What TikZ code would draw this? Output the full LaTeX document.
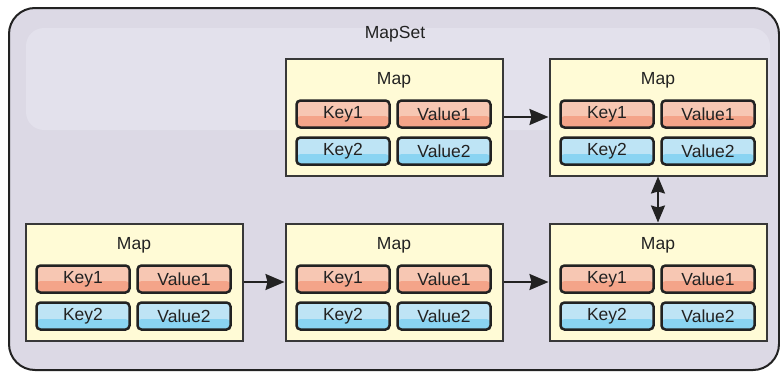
\documentclass[tikz,border=0pt]{standalone}
\usepackage{fontspec}
\setmainfont{Liberation Sans}
\usetikzlibrary{positioning,arrows.meta}

\definecolor{setfill}{HTML}{DCD9E5}
\definecolor{bandfill}{HTML}{E3E1EC}
\definecolor{mapfill}{HTML}{FFFBD6}
\definecolor{keytop}{HTML}{F7C7B3}
\definecolor{keybot}{HTML}{F4A489}
\definecolor{valtop}{HTML}{BEE4F5}
\definecolor{valbot}{HTML}{8AD4F2}
\definecolor{ink}{HTML}{222222}

\tikzset{
  mapbox/.style={draw=ink!90, line width=2pt, fill=mapfill, minimum width=217pt, minimum height=117pt},
  maptitle/.style={text=ink, font=\fontsize{17.5}{20}\selectfont},
  cell/.style={draw=ink, line width=2.5pt, rounded corners=4pt, minimum width=93pt, minimum height=27pt,
    inner sep=0pt, text=ink, font=\fontsize{17.5}{20}\selectfont},
  redcell/.style={cell, fill=keytop, path picture={\fill[keybot] ([yshift=-2pt]path picture bounding box.west) rectangle (path picture bounding box.south east);}},
  bluecell/.style={cell, fill=valtop, path picture={\fill[valbot] ([yshift=-3pt]path picture bounding box.west) rectangle (path picture bounding box.south east);}},
  link/.style={draw=ink, line width=2pt, -{Stealth[length=19pt,width=16pt,inset=2pt]}},
  twolink/.style={draw=ink, line width=2pt, {Stealth[length=17pt,width=14pt,inset=2pt]}-{Stealth[length=17pt,width=14pt,inset=2pt]}}
}

\begin{document}
\begin{tikzpicture}[x=1pt,y=-1pt]
    \useasboundingbox (0,0) rectangle (780,372);

    % The map set
    \draw[draw=ink, line width=2pt, fill=setfill, rounded corners=26pt] (9,8) rectangle (779,370);
    \fill[bandfill, rounded corners=18pt] (26,28) rectangle (770,130);
    \node[maptitle] (mapset) at (395,34) {MapSet};

    % The maps
    \foreach \m/\cx/\cy in {m1/394/117, m2/658/117, m3/134/282, m4/394/282, m5/658/282} {
        \node[mapbox] (\m) at (\cx,\cy) {};
        \node[maptitle] (\m-title) at (\cx,\cy-36.5) {Map};
        \node[redcell] (\m-k1) at (\cx-51,\cy-3) {Key1};
        \node[redcell] (\m-v1) at (\cx+50,\cy-3) {Value1};
        \node[bluecell] (\m-k2) at (\cx-51,\cy+34) {Key2};
        \node[bluecell] (\m-v2) at (\cx+50,\cy+34) {Value2};
    }

    % Links
    \draw[link] (m1) -- (m2);
    \draw[link] (m3) -- (m4);
    \draw[link] (m4) -- (m5);
    \draw[twolink] (m2) -- (m5);
\end{tikzpicture}
\end{document}
